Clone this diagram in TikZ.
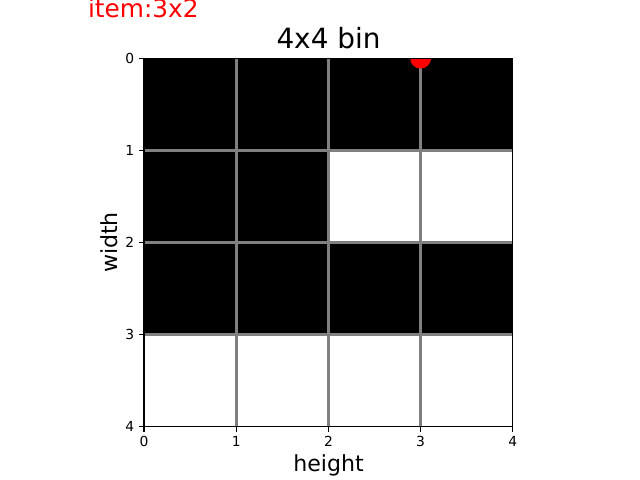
\documentclass[tikz,border=0pt]{standalone}
\usepackage{fontspec}
\setmainfont{DejaVu Sans}
\begin{document}
\begin{tikzpicture}[x=1bp,y=-1bp,
  txt/.style={inner sep=0pt, outer sep=0pt},
  tick/.style={txt, font=\fontsize{13.9}{16}\selectfont},
  cellfill/.style={fill=black},
  gridline/.style={draw={rgb,255:red,128;green,128;blue,128}, line width=2.6bp},
  frame/.style={draw=black, line width=1.1bp},
  tickmark/.style={draw=black, line width=1.1bp}]
\useasboundingbox (0,0) rectangle (640,480);
\def\Xo{144}\def\Yo{58.1}\def\S{92.2}
% black cells
\foreach \r/\c in {0/0,0/1,0/2,0/3,1/0,1/1,2/0,2/1,2/2,2/3}{
  \fill[cellfill] ({\Xo+\c*\S},{\Yo+\r*\S}) rectangle ({\Xo+(\c+1)*\S},{\Yo+(\r+1)*\S});
}
% grid
\foreach \i in {1,2,3}{
  \draw[gridline] ({\Xo+\i*\S},{\Yo}) -- ({\Xo+\i*\S},{\Yo+4*\S});
  \draw[gridline] ({\Xo},{\Yo+\i*\S}) -- ({\Xo+4*\S},{\Yo+\i*\S});
}
% red dot clipped
\begin{scope}
  \clip ({\Xo},{\Yo}) rectangle ({\Xo+4*\S},{\Yo+4*\S});
  \fill[red] ({\Xo+3*\S},{\Yo}) circle (10.5);
\end{scope}
% frame
\draw[frame] ({\Xo},{\Yo}) rectangle ({\Xo+4*\S},{\Yo+4*\S});
% ticks
\foreach \i in {0,1,2,3,4}{
  \draw[tickmark] ({\Xo+\i*\S},{\Yo+4*\S}) -- ({\Xo+\i*\S},{\Yo+4*\S+4.9});
  \node[tick, anchor=north] (xt\i) at ({\Xo+\i*\S},{\Yo+4*\S+9.8}) {\i};
  \draw[tickmark] ({\Xo},{\Yo+\i*\S}) -- ({\Xo-4.9},{\Yo+\i*\S});
  \node[tick, anchor=east] (yt\i) at ({\Xo-9.8},{\Yo+\i*\S}) {\i};
}
% labels
\node[txt, anchor=base, font=\fontsize{28}{33}\selectfont] (title) at (328.5,49) {4x4 bin};
\node[txt, anchor=base west, text=red, font=\fontsize{24.9}{29}\selectfont] (item) at (88,18) {item:3x2};
\node[txt, anchor=base, font=\fontsize{22.2}{26}\selectfont] (xlab) at (328.5,471.7) {height};
\node[txt, rotate=90, font=\fontsize{22.2}{26}\selectfont] (ylab) at (109,242.5) {width};
\end{tikzpicture}
\end{document}
